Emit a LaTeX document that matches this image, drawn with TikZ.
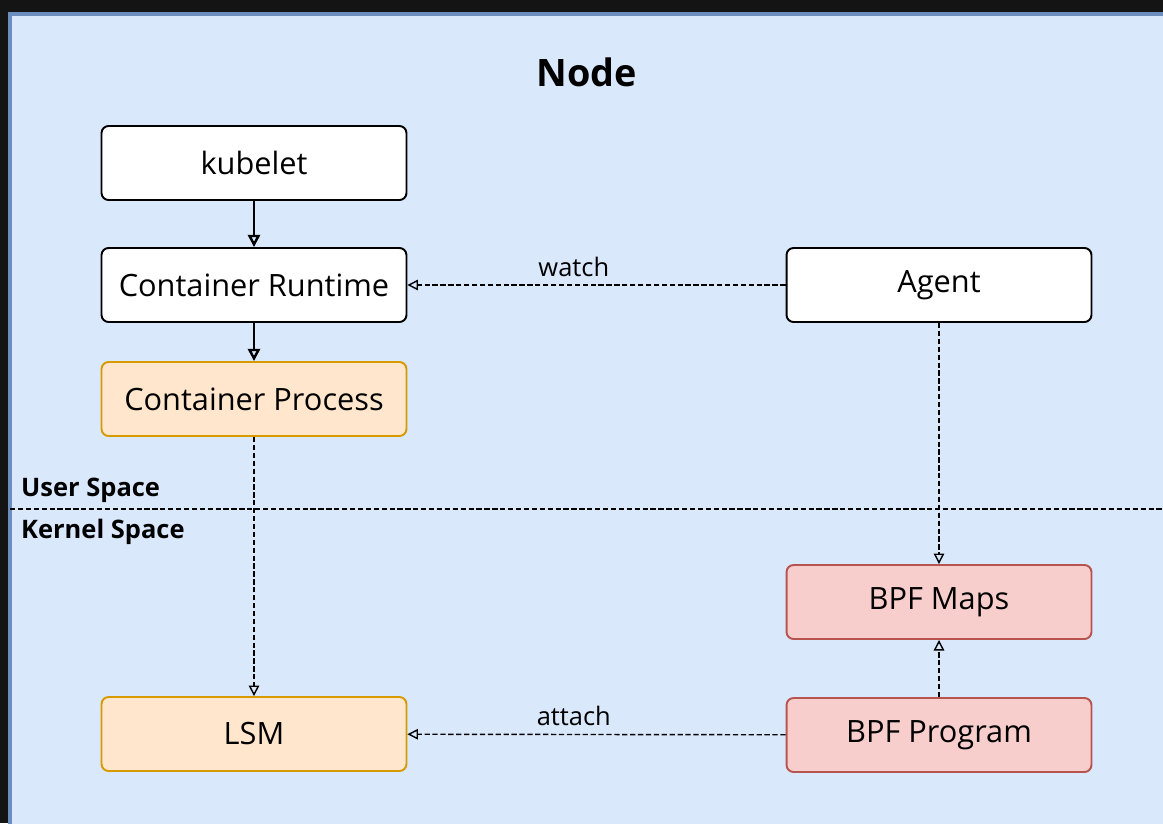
\documentclass[tikz,border=0pt]{standalone}
\usepackage{fontspec}
\setmainfont{Open Sans}
\usepackage{tikz}
\usetikzlibrary{arrows.meta}

\definecolor{nodebg}{HTML}{DAE8FC}
\definecolor{nodeline}{HTML}{6C8EBF}
\definecolor{procfill}{HTML}{FFE6CC}
\definecolor{procline}{HTML}{D79B00}
\definecolor{bpffill}{HTML}{F8CECC}
\definecolor{bpfline}{HTML}{B85450}

\tikzset{
	box/.style={draw=black, fill=white, rounded corners=4pt, line width=1.1pt,
		minimum width=6.1cm, minimum height=1.48cm, font=\fontsize{17.5}{21}\selectfont},
	procbox/.style={box, draw=procline, fill=procfill},
	bpfbox/.style={box, draw=bpfline, fill=bpffill},
	flow/.style={-{Triangle[open, length=7pt, width=7pt]}, line width=1.4pt},
	dflow/.style={-{Triangle[open, length=6pt, width=6pt]}, line width=0.8pt, dash pattern=on 3pt off 1.5pt},
	edgelabel/.style={font=\fontsize{14.5}{17}\selectfont, above=1pt, pos=0.56},
	spacelabel/.style={font=\bfseries\fontsize{14.5}{17}\selectfont, anchor=west}
}

\begin{document}
\begin{tikzpicture}[x=0.02cm, y=-0.02cm]
	\useasboundingbox (0,0) rectangle (1163,823);
	\fill[black!92] (0,0) rectangle (1163,823);
	\draw[nodeline, fill=nodebg, line width=2pt] (10,14) rectangle (1190,850);

	\node[font=\bfseries\fontsize{21.5}{25}\selectfont] (title) at (587,72) {Node};

	% user space
	\node[box] (kubelet) at (254,163) {kubelet};
	\node[box] (runtime) at (254,285) {Container Runtime};
	\node[procbox] (process) at (254,399) {Container Process};
	\node[box] (agent) at (939,285) {Agent};

	% separator
	\coordinate (sepl) at (10,509);
	\coordinate (sepr) at (1163,509);
	\draw[line width=0.8pt, dash pattern=on 3pt off 1.5pt] (sepl) -- (sepr);
	\node[spacelabel] (user) at (15,490) {User Space};
	\node[spacelabel] (kernel) at (15,532) {Kernel Space};

	% kernel space
	\node[bpfbox] (maps) at (939,602) {BPF Maps};
	\node[bpfbox] (prog) at (939,735) {BPF Program};
	\node[procbox] (lsm) at (254,734) {LSM};

	\draw[flow] (kubelet) -- (runtime);
	\draw[flow] (runtime) -- (process);
	\draw[dflow] (process) -- (lsm);
	\draw[dflow] (agent) -- node[edgelabel] {watch} (runtime);
	\draw[dflow] (agent) -- (maps);
	\draw[dflow] (prog) -- (maps);
	\draw[dflow] (prog) -- node[edgelabel] {attach} (lsm);
\end{tikzpicture}
\end{document}
